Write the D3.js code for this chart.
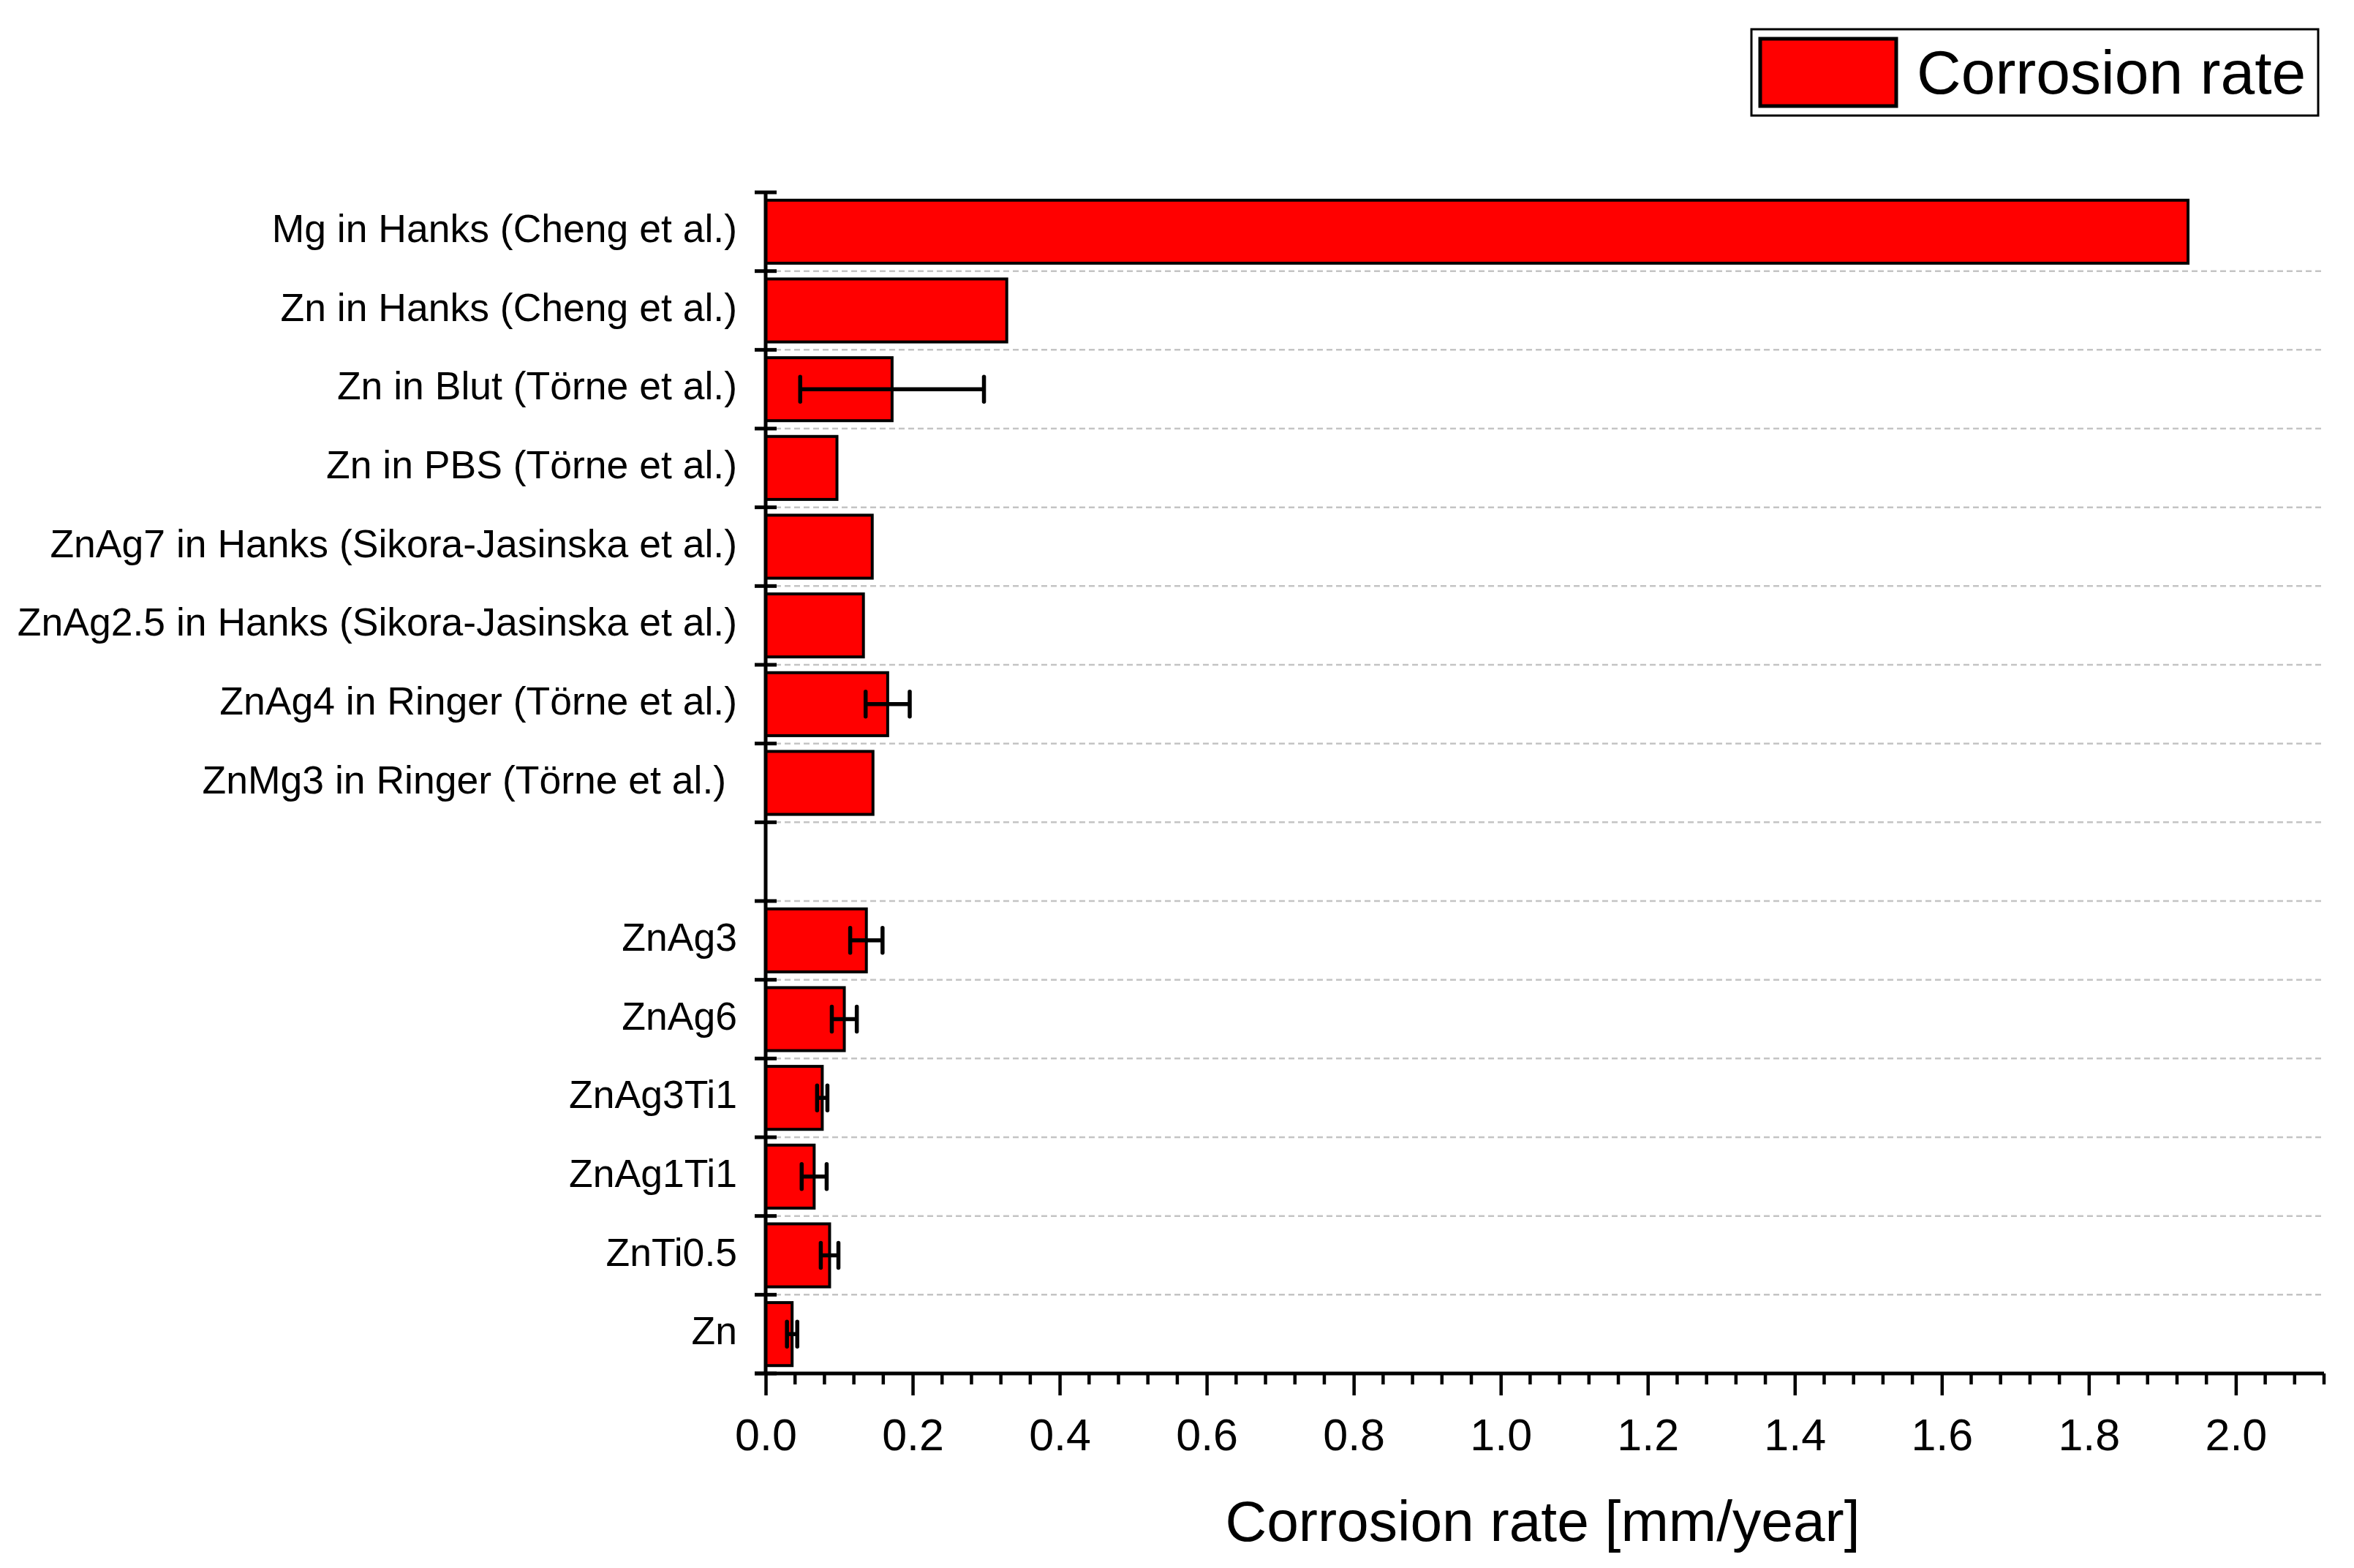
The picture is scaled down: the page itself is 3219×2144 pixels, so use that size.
<!DOCTYPE html>
<html>
<head>
<meta charset="utf-8">
<script src="https://cdn.jsdelivr.net/npm/d3@7"></script>
<style>
  html, body { margin: 0; padding: 0; background: #fff; }
  svg { display: block; }
  text { font-family: "Liberation Sans", Arial, sans-serif; fill: #000; white-space: pre; }
</style>
</head>
<body>
<svg id="chart" width="3219" height="2144"></svg>
<script>
// ---- data ----
const categories = [
  "Mg in Hanks (Cheng et al.)",
  "Zn in Hanks (Cheng et al.)",
  "Zn in Blut (Törne et al.)",
  "Zn in PBS (Törne et al.)",
  "ZnAg7 in Hanks (Sikora-Jasinska et al.)",
  "ZnAg2.5 in Hanks (Sikora-Jasinska et al.)",
  "ZnAg4 in Ringer (Törne et al.)",
  "ZnMg3 in Ringer (Törne et al.) ",
  "",
  "ZnAg3",
  "ZnAg6",
  "ZnAg3Ti1",
  "ZnAg1Ti1",
  "ZnTi0.5",
  "Zn"
];
const rates  = [1.935, 0.328, 0.172, 0.097, 0.145, 0.133, 0.166, 0.146, null, 0.137, 0.107, 0.077, 0.066, 0.087, 0.036];
const errors = [null, null, 0.125, null, null, null, 0.030, null, null, 0.022, 0.017, 0.007, 0.017, 0.012, 0.007];
const xTickValues = [0.0, 0.2, 0.4, 0.6, 0.8, 1.0, 1.2, 1.4, 1.6, 1.8, 2.0];
const xDomain = [0, 2.12];
const xTitle = "Corrosion rate [mm/year]";
const legendLabel = "Corrosion rate";

// ---- layout ----
const svg = d3.select("#chart");
const pLeft = 1047, pRight = 3178, pTop = 263, pBottom = 1878;

const x = d3.scaleLinear().domain(xDomain).range([pLeft, pRight]);
const idx = d3.range(categories.length);
const y = d3.scaleBand().domain(idx).range([pTop, pBottom]).paddingInner(0.2).paddingOuter(0.1);
const step = y.step();
const boundaries = d3.range(categories.length + 1).map(i => pTop + i * step);

// gridlines (dashed) at inner category boundaries
svg.append("g").selectAll("line").data(boundaries.slice(1, -1)).join("line")
  .attr("x1", pLeft).attr("x2", pRight)
  .attr("y1", d => d).attr("y2", d => d)
  .attr("stroke", "#c4c4c4").attr("stroke-width", 2.5)
  .attr("stroke-dasharray", "8,5");

// bars
const data = idx.map(i => ({i, label: categories[i], v: rates[i], e: errors[i]}));
svg.append("g").selectAll("rect").data(data.filter(d => d.v != null)).join("rect")
  .attr("x", x(0))
  .attr("y", d => y(d.i))
  .attr("width", d => x(d.v) - x(0))
  .attr("height", y.bandwidth())
  .attr("fill", "#ff0000")
  .attr("stroke", "#000").attr("stroke-width", 4);

// error bars
const eb = svg.append("g").attr("stroke", "#000").attr("stroke-width", 5.5);
data.filter(d => d.e != null).forEach(d => {
  const cy = y(d.i) + y.bandwidth() / 2;
  const x1 = x(d.v - d.e), x2 = x(d.v + d.e);
  eb.append("line").attr("x1", x1).attr("x2", x2).attr("y1", cy).attr("y2", cy);
  eb.append("line").attr("x1", x1).attr("x2", x1).attr("y1", cy - 17).attr("y2", cy + 17).attr("stroke-linecap", "round");
  eb.append("line").attr("x1", x2).attr("x2", x2).attr("y1", cy - 17).attr("y2", cy + 17).attr("stroke-linecap", "round");
});

// y axis line and ticks
svg.append("line").attr("x1", pLeft).attr("x2", pLeft).attr("y1", pTop).attr("y2", pBottom)
  .attr("stroke", "#000").attr("stroke-width", 5);
svg.append("g").selectAll("line").data(boundaries).join("line")
  .attr("x1", pLeft - 15).attr("x2", pLeft + 15)
  .attr("y1", d => d).attr("y2", d => d)
  .attr("stroke", "#000").attr("stroke-width", 5);

// y labels
svg.append("g").selectAll("text").data(data.filter(d => d.label.length)).join("text")
  .attr("x", 1008)
  .attr("y", d => y(d.i) + y.bandwidth() / 2 + 14)
  .attr("text-anchor", "end")
  .attr("font-size", 53.5)
  .text(d => d.label);

// x axis
const xAxis = d3.axisBottom(x).tickValues(xTickValues).tickFormat(d3.format(".1f")).tickSize(30).tickPadding(16);
const gx = svg.append("g").attr("transform", `translate(0,${pBottom})`).call(xAxis);
gx.select(".domain").remove();
gx.selectAll(".tick line").attr("stroke", "#000").attr("stroke-width", 4.5);
gx.selectAll(".tick text").attr("font-size", 61).attr("font-family", "Liberation Sans, Arial, sans-serif")
  .attr("dy", null).attr("y", 105).attr("fill", "#000");
// minor ticks
const minor = d3.range(0, 54).map(k => k * 0.04).filter(v => v <= xDomain[1] + 1e-9 && Math.abs(v / 0.2 - Math.round(v / 0.2)) > 1e-6);
svg.append("g").selectAll("line").data(minor).join("line")
  .attr("x1", d => x(d)).attr("x2", d => x(d))
  .attr("y1", pBottom).attr("y2", pBottom + 15)
  .attr("stroke", "#000").attr("stroke-width", 4.5);
svg.append("line").attr("x1", pLeft - 15).attr("x2", pRight).attr("y1", pBottom).attr("y2", pBottom)
  .attr("stroke", "#000").attr("stroke-width", 5);

// x title
svg.append("text").attr("x", (pLeft + pRight) / 2 - 3).attr("y", 2107)
  .attr("text-anchor", "middle").attr("font-size", 78.5).text(xTitle);

// legend
const lg = svg.append("g");
lg.append("rect").attr("x", 2395).attr("y", 40).attr("width", 775).attr("height", 118)
  .attr("fill", "#fff").attr("stroke", "#000").attr("stroke-width", 3);
lg.append("rect").attr("x", 2407).attr("y", 53).attr("width", 186).attr("height", 92)
  .attr("fill", "#ff0000").attr("stroke", "#000").attr("stroke-width", 5);
lg.append("text").attr("x", 2621).attr("y", 128).attr("font-size", 84).text(legendLabel);
</script>
</body>
</html>
